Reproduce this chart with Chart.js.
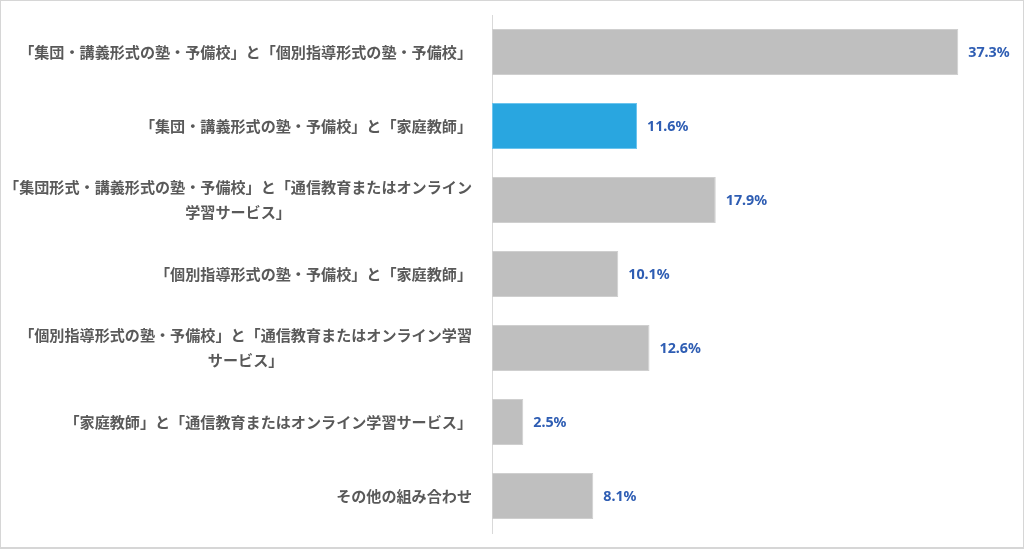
<!DOCTYPE html>
<html>
<head>
<meta charset="utf-8">
<script src="https://cdn.jsdelivr.net/npm/chart.js@4.4.1/dist/chart.umd.min.js"></script>
<style>
  html, body { margin: 0; padding: 0; background: #fff; }
  #wrap { position: relative; width: 1024px; height: 549px; }
  #frame { position: absolute; left: 0; top: 0; width: 1024px; height: 549px; box-sizing: border-box; border: 1px solid #d6d6d6; border-bottom-width: 2px; pointer-events: none; }
</style>
</head>
<body>
<div id="wrap">
  <canvas id="c" width="1024" height="549"></canvas>
  <div id="frame"></div>
</div>
<script>
const categories = [
  ['「集団・講義形式の塾・予備校」と「個別指導形式の塾・予備校」'],
  ['「集団・講義形式の塾・予備校」と「家庭教師」'],
  ['「集団形式・講義形式の塾・予備校」と「通信教育またはオンライン', '学習サービス」'],
  ['「個別指導形式の塾・予備校」と「家庭教師」'],
  ['「個別指導形式の塾・予備校」と「通信教育またはオンライン学習', 'サービス」'],
  ['「家庭教師」と「通信教育またはオンライン学習サービス」'],
  ['その他の組み合わせ']
];
const values = [37.3, 11.6, 17.9, 10.1, 12.6, 2.5, 8.1];
const valueLabels = ['37.3%', '11.6%', '17.9%', '10.1%', '12.6%', '2.5%', '8.1%'];
const highlightIndex = 1;

const grayFill = '#bfbfbf', grayBorder = '#cfcfcf';
const blueFill = '#29a6e0', blueBorder = '#6cc4ee';

const labelFont = 'bold 15.1px "Noto Sans CJK JP", "Noto Sans", sans-serif';
const valueFont = 'bold 14.3px "Noto Sans", "DejaVu Sans", sans-serif';

const labelPlugin = {
  id: 'customLabels',
  afterDraw(chart) {
    const ctx = chart.ctx;
    const yScale = chart.scales.y;
    const rightEdge = yScale.right - 20;
    ctx.save();
    ctx.font = labelFont;
    ctx.fillStyle = '#595959';
    ctx.textBaseline = 'middle';
    ctx.textAlign = 'center';
    const lh = 25;
    categories.forEach((lines, i) => {
      const cy = yScale.getPixelForValue(i);
      const maxW = Math.max(...lines.map(l => ctx.measureText(l).width));
      const cx = rightEdge - maxW / 2;
      const startY = cy - (lines.length - 1) * lh / 2;
      lines.forEach((l, j) => ctx.fillText(l, cx, startY + j * lh));
    });
    ctx.font = valueFont;
    ctx.fillStyle = '#2e5db3';
    ctx.textAlign = 'left';
    const meta = chart.getDatasetMeta(0);
    meta.data.forEach((bar, i) => {
      ctx.fillText(valueLabels[i], bar.x + 10, bar.y + 1);
    });
    ctx.restore();
  }
};

new Chart(document.getElementById('c'), {
  type: 'bar',
  data: {
    labels: categories.map(c => c.join('')),
    datasets: [{
      data: values,
      backgroundColor: values.map((v, i) => i === highlightIndex ? blueFill : grayFill),
      borderColor: values.map((v, i) => i === highlightIndex ? blueBorder : grayBorder),
      borderWidth: 1,
      borderSkipped: false,
      categoryPercentage: 1,
      barPercentage: 0.62
    }]
  },
  options: {
    indexAxis: 'y',
    responsive: false,
    animation: false,
    layout: { padding: { left: 0, right: 32, top: 15, bottom: 16 } },
    plugins: { legend: { display: false }, tooltip: { enabled: false } },
    scales: {
      x: { display: false, min: 0, max: 40 },
      y: {
        ticks: { display: false },
        grid: { display: false, drawTicks: false },
        border: { display: true, color: '#d9d9d9', width: 1 },
        afterFit(scale) { scale.width = 492; }
      }
    }
  },
  plugins: [labelPlugin]
});
</script>
</body>
</html>
